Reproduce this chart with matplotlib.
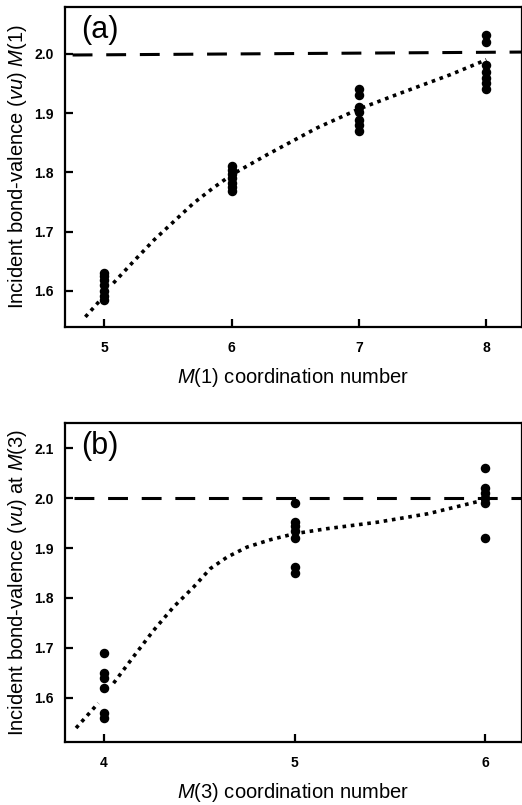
import numpy as np
import matplotlib
matplotlib.use("Agg")
import matplotlib.pyplot as plt

plt.rcParams['font.family'] = ['Liberation Sans', 'DejaVu Sans']
plt.rcParams['mathtext.fontset'] = 'custom'
plt.rcParams['mathtext.rm'] = 'Liberation Sans'
plt.rcParams['mathtext.it'] = 'Liberation Sans:italic'

# panel (a): M(1)
cn_a = [5]*7 + [6]*7 + [7]*7 + [8]*7
bv_a = [1.585, 1.592, 1.600, 1.610, 1.618, 1.625, 1.630,
        1.768, 1.775, 1.782, 1.790, 1.798, 1.804, 1.810,
        1.870, 1.880, 1.889, 1.902, 1.911, 1.931, 1.941,
        1.941, 1.951, 1.959, 1.970, 1.981, 2.020, 2.032]
curve_a_x = [4.85, 4.97, np.nan, 5.07, 5.23, 5.39, 5.55, 5.70, 5.85, 6.00, 6.28, 6.67, 7.00, 7.33, 7.72, 8.00]
curve_a_y = [1.556, 1.585, np.nan, 1.613, 1.650, 1.686, 1.718, 1.748, 1.773, 1.796, 1.830, 1.875, 1.907, 1.934, 1.965, 1.990]
ref_a_x = [4.75, 8.30]
ref_a_y = [1.998, 2.003]

# panel (b): M(3)
cn_b = [4]*6 + [5]*7 + [6]*6
bv_b = [1.560, 1.570, 1.620, 1.640, 1.650, 1.690,
        1.850, 1.862, 1.920, 1.935, 1.944, 1.952, 1.990,
        1.920, 1.990, 2.000, 2.010, 2.020, 2.060]
curve_b_x = [3.853, 3.97, np.nan, 4.05, 4.154, 4.26, 4.365, 4.47, 4.558, 4.646, 4.75, 4.874,
             5.00, 5.17, 5.435, 5.70, 6.00]
curve_b_y = [1.539, 1.589, np.nan, 1.629, 1.682, 1.735, 1.782, 1.822, 1.859, 1.882, 1.902, 1.917,
             1.929, 1.939, 1.952, 1.969, 1.997]
ref_b_x = [3.84, 6.20]
ref_b_y = [2.0, 2.0]

fig = plt.figure(figsize=(5.22, 8.05), dpi=100)
ax1 = fig.add_axes([0.1245, 0.5938, 0.8755, 0.3975])
ax2 = fig.add_axes([0.1245, 0.0783, 0.8755, 0.3962])


def style(ax, xlabel, ylabel, tag):
    for s in ax.spines.values():
        s.set_linewidth(1.6)
    ax.tick_params(direction='in', length=6, width=1.6, pad=8, labelsize=10)
    ax.tick_params(axis='x', pad=10)
    for lab in ax.get_xticklabels() + ax.get_yticklabels():
        lab.set_fontweight('bold')
    ax.set_xlabel(xlabel, fontsize=14.5)
    ax.set_ylabel(ylabel, fontsize=14.5)
    ax.xaxis.set_label_coords(0.5, -0.122)
    ax.yaxis.set_label_coords(-0.078, 0.5)
    ax.text(0.035, 0.975, tag, transform=ax.transAxes, fontsize=22, va='top', ha='left')


for ax, cx, cy, rx, ry, px, py in [(ax1, curve_a_x, curve_a_y, ref_a_x, ref_a_y, cn_a, bv_a),
                                   (ax2, curve_b_x, curve_b_y, ref_b_x, ref_b_y, cn_b, bv_b)]:
    ax.plot(rx, ry, color='black', lw=2.2, linestyle=(0, (6.5, 4.5)), zorder=1)
    ax.plot(cx, cy, color='black', lw=2.6, linestyle=(0, (1, 1.3)), zorder=2)
    ax.scatter(px, py, s=34, color='black', zorder=3)

ax1.set_xlim(4.69, 8.28)
ax1.set_ylim(1.539, 2.079)
ax1.set_xticks([5, 6, 7, 8])
ax1.set_yticks([1.6, 1.7, 1.8, 1.9, 2.0])
style(ax1, r'$\mathit{M}$(1) coordination number',
      r'Incident bond-valence ($\mathit{vu}$) $\mathit{M}$(1)', '(a)')

ax2.set_xlim(3.795, 6.193)
ax2.set_ylim(1.511, 2.151)
ax2.set_xticks([4, 5, 6])
ax2.set_yticks([1.6, 1.7, 1.8, 1.9, 2.0, 2.1])
style(ax2, r'$\mathit{M}$(3) coordination number',
      r'Incident bond-valence ($\mathit{vu}$) at $\mathit{M}$(3)', '(b)')

fig.savefig('out.png', dpi=100)
